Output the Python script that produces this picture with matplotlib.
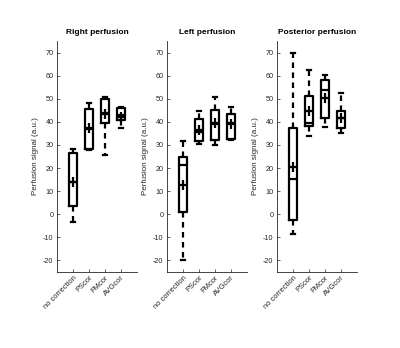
import numpy as np
import matplotlib
matplotlib.use("Agg")
import matplotlib.pyplot as plt

plt.rcParams["font.family"] = ["Liberation Sans", "DejaVu Sans"]
plt.rcParams["axes.unicode_minus"] = False

methods = ["no correction", "PScor", "FMcor", "AVGcor"]
titles = ["Right perfusion", "Left perfusion", "Posterior perfusion"]

# box statistics per panel (one value per method)
right_whislo = [-3.5, 28.0, 25.5, 37.2]
right_q1 = [3.6, 28.3, 39.6, 40.6]
right_med = [14.0, 36.8, 44.0, 42.8]
right_q3 = [26.6, 45.4, 49.7, 46.0]
right_whishi = [28.4, 48.3, 50.8, 46.4]
right_mean = [14.0, 37.2, 43.2, 42.0]

left_whislo = [-20.0, 30.6, 29.9, 32.3]
left_q1 = [0.9, 31.5, 32.2, 32.5]
left_med = [21.3, 35.6, 39.2, 39.5]
left_q3 = [24.8, 41.1, 45.0, 43.5]
left_whishi = [31.6, 44.5, 50.8, 46.4]
left_mean = [12.5, 36.4, 39.4, 39.0]

post_whislo = [-8.7, 34.0, 37.8, 35.0]
post_q1 = [-2.5, 38.4, 41.5, 37.2]
post_med = [15.3, 39.6, 53.8, 41.5]
post_q3 = [37.2, 51.0, 58.1, 44.7]
post_whishi = [70.0, 62.4, 60.4, 52.4]
post_mean = [20.5, 44.6, 50.5, 41.7]

panels = [
    (right_whislo, right_q1, right_med, right_q3, right_whishi, right_mean),
    (left_whislo, left_q1, left_med, left_q3, left_whishi, left_mean),
    (post_whislo, post_q1, post_med, post_q3, post_whishi, post_mean),
]

fig = plt.figure(figsize=(4.0, 3.48), dpi=100)
lefts = [57 / 400, 167 / 400, 277 / 400]
grey = "#262626"

for k, (lo, q1, med, q3, hi, mean) in enumerate(panels):
    ax = fig.add_axes([lefts[k], 76 / 348, 80 / 400, 231 / 348])
    stats = []
    for i in range(len(methods)):
        stats.append(dict(whislo=lo[i], q1=q1[i], med=med[i], q3=q3[i],
                          whishi=hi[i], mean=mean[i], fliers=[], label=methods[i]))
    ax.bxp(stats, positions=[1, 2, 3, 4], widths=0.5, capwidths=0.25,
           showmeans=True, meanline=False,
           boxprops=dict(color="k", linewidth=1.6),
           medianprops=dict(color="k", linewidth=1.6),
           whiskerprops=dict(color="k", linewidth=1.6, linestyle=(0, (2.5, 2.0))),
           capprops=dict(color="k", linewidth=1.6),
           meanprops=dict(marker="+", markeredgecolor="k", markersize=7,
                          markeredgewidth=1.6))
    ax.set_xlim(0, 5)
    ax.set_ylim(-25, 75)
    ax.set_yticks(np.arange(-20, 71, 10))
    ax.set_xticks([1, 2, 3, 4])
    ax.set_xticklabels(methods, rotation=45, ha="right", rotation_mode="anchor",
                       fontsize=5.4, color=grey)
    ax.tick_params(axis="y", labelsize=5.2, labelcolor=grey, direction="in",
                   length=2.5, width=0.5, color=grey, pad=2.5)
    ax.tick_params(axis="x", direction="in", length=2.5, width=0.5, color=grey, pad=1.5)
    for s in ["top", "right"]:
        ax.spines[s].set_visible(False)
    for s in ["left", "bottom"]:
        ax.spines[s].set_color(grey)
        ax.spines[s].set_linewidth(0.6)
    ax.set_ylabel("Perfusion signal (a.u.)", fontsize=5.8, color=grey, labelpad=3)
    ax.set_title(titles[k], fontsize=6.0, fontweight="bold", pad=5)

fig.savefig("out.png", dpi=100)
